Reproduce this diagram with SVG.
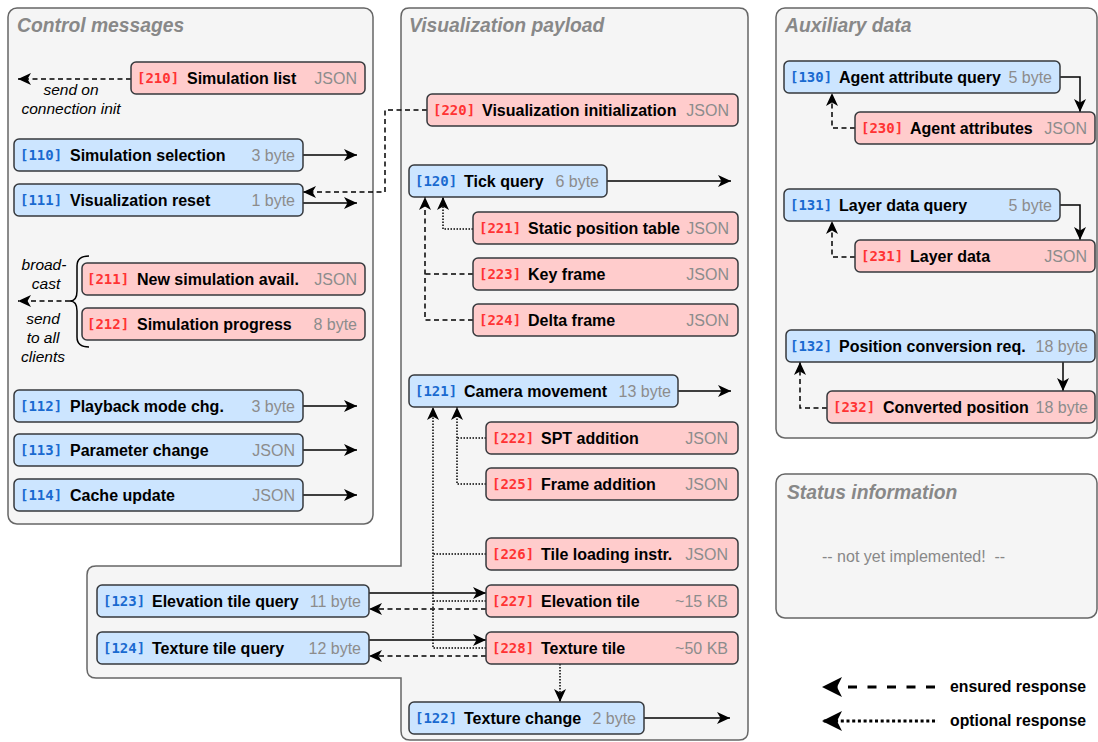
<svg xmlns="http://www.w3.org/2000/svg" width="1098" height="742" viewBox="0 0 1098 742">
  <style>
    .panel { fill: #f5f5f5; stroke: #666666; stroke-width: 1.5; }
    .title { font-family: "Liberation Sans", Arial, sans-serif; font-size: 19.3px; font-weight: bold; font-style: italic; fill: #888888; }
    .req { fill: #cce5ff; stroke: #36393d; stroke-width: 1.5; }
    .res { fill: #ffcccc; stroke: #36393d; stroke-width: 1.5; }
    .idb, .idr { font-family: "DejaVu Sans Mono", "Liberation Mono", monospace; font-size: 14px; font-weight: bold; }
    .idb { fill: #1a6ad0; }
    .idr { fill: #ff3333; }
    .lbl { font-family: "Liberation Sans", Arial, sans-serif; font-size: 16px; font-weight: bold; fill: #000000; }
    .sz { font-family: "Liberation Sans", Arial, sans-serif; font-size: 16px; fill: #8c8c8c; text-anchor: end; }
    .note { font-family: "Liberation Sans", Arial, sans-serif; font-size: 15.5px; font-style: italic; fill: #000000; text-anchor: middle; }
    .gray { font-family: "Liberation Sans", Arial, sans-serif; font-size: 16px; fill: #888888; white-space: pre; }
    .legend { font-family: "Liberation Sans", Arial, sans-serif; font-size: 15.8px; font-weight: bold; fill: #000000; }
    .ln { fill: none; stroke: #000000; stroke-width: 1.5; }
    .dash { stroke-dasharray: 5 3.5; }
    .dot { stroke-dasharray: 1.5 1.5; }
  </style>
  <defs>
    <marker id="arr" viewBox="0 0 13 12" refX="13" refY="6" markerWidth="13" markerHeight="12" markerUnits="userSpaceOnUse" orient="auto">
      <path d="M0,0 L13,6 L0,12 L3.5,6 Z" fill="#000000"/>
    </marker>
    <marker id="bigarr" viewBox="0 0 20 20" refX="20" refY="10" markerWidth="20" markerHeight="20" markerUnits="userSpaceOnUse" orient="auto">
      <path d="M0,0 L20,10 L0,20 L5,10 Z" fill="#000000"/>
    </marker>
  </defs>

  <!-- panels -->
  <g id="panel-control">
    <rect class="panel" x="8" y="8" width="365" height="516" rx="9"/>
    <text class="title" x="17" y="32">Control messages</text>
  </g>
  <g id="panel-visualization">
    <path class="panel" d="M409,8 H739 Q748,8 748,17 V731 Q748,740 739,740 H410 Q401,740 401,731 V678 H96 Q87,678 87,669 V575 Q87,566 96,566 H401 V17 Q401,8 409,8 Z"/>
    <text class="title" x="409" y="32">Visualization payload</text>
  </g>
  <g id="panel-auxiliary">
    <rect class="panel" x="776" y="8" width="321" height="430" rx="9"/>
    <text class="title" x="785" y="32">Auxiliary data</text>
  </g>
  <g id="panel-status">
    <rect class="panel" x="776" y="474" width="321" height="144" rx="9"/>
    <text class="title" x="787" y="499">Status information</text>
    <text class="gray" x="822" y="562" xml:space="preserve">-- not yet implemented!  --</text>
  </g>

  <!-- connectors -->
  <g id="connectors">
    <path class="ln dash" d="M131,79 H18" marker-end="url(#arr)"/>
    <path class="ln" d="M303,155 H357" marker-end="url(#arr)"/>
    <path class="ln" d="M303,203 H357" marker-end="url(#arr)"/>
    <path class="ln dash" d="M427,110 H385 V192 H303" marker-end="url(#arr)"/>
    <path class="ln" d="M89,256 Q77,256 77,266 V291 Q77,301 70,301 Q77,301 77,311 V337 Q77,347 89,347"/>
    <path class="ln dash" d="M70,301 H18" marker-end="url(#arr)"/>
    <path class="ln" d="M303,406 H357" marker-end="url(#arr)"/>
    <path class="ln" d="M303,450 H357" marker-end="url(#arr)"/>
    <path class="ln" d="M303,495 H357" marker-end="url(#arr)"/>

    <path class="ln" d="M607,181 H731" marker-end="url(#arr)"/>
    <path class="ln dot" d="M473,229 H443 V197" marker-end="url(#arr)"/>
    <path class="ln dash" d="M473,320 H425 V197" marker-end="url(#arr)"/>
    <path class="ln dash" d="M473,274 H425"/>

    <path class="ln" d="M678,391 H731" marker-end="url(#arr)"/>
    <path class="ln dot" d="M486,484 H457 V407" marker-end="url(#arr)"/>
    <path class="ln dot" d="M486,438 H457"/>
    <path class="ln dot" d="M486,648 H433 V407" marker-end="url(#arr)"/>
    <path class="ln dot" d="M486,554 H433"/>
    <path class="ln dot" d="M486,601 H433"/>

    <path class="ln" d="M369,593 H486" marker-end="url(#arr)"/>
    <path class="ln dash" d="M486,609 H369" marker-end="url(#arr)"/>
    <path class="ln" d="M369,640 H486" marker-end="url(#arr)"/>
    <path class="ln dash" d="M486,656 H369" marker-end="url(#arr)"/>
    <path class="ln dot" d="M560,664 V702" marker-end="url(#arr)"/>
    <path class="ln" d="M644,718 H730" marker-end="url(#arr)"/>

    <path class="ln" d="M1060,77 H1080 V112" marker-end="url(#arr)"/>
    <path class="ln dash" d="M855,128 H832 V93" marker-end="url(#arr)"/>
    <path class="ln" d="M1060,205 H1080 V240" marker-end="url(#arr)"/>
    <path class="ln dash" d="M855,257 H832 V221" marker-end="url(#arr)"/>
    <path class="ln" d="M1063,362 V391" marker-end="url(#arr)"/>
    <path class="ln dash" d="M827,408 H800 V362" marker-end="url(#arr)"/>
  </g>

  <!-- notes -->
  <g id="note-init">
    <text class="note" x="71" y="95">send on</text>
    <text class="note" x="71" y="114">connection init</text>
  </g>
  <g id="note-broadcast">
    <text class="note" x="44" y="270">broad-</text>
    <text class="note" x="46" y="289">cast</text>
    <text class="note" x="43" y="324">send</text>
    <text class="note" x="43" y="343">to all</text>
    <text class="note" x="43" y="362">clients</text>
  </g>

  <!-- control messages -->
  <g id="n210">
    <rect class="res" x="131" y="62" width="234" height="32" rx="5"/>
    <text class="idr" x="137" y="83">[210]</text>
    <text class="lbl" x="187" y="83.5">Simulation list</text>
    <text class="sz" x="357" y="83.5">JSON</text>
  </g>
  <g id="n110">
    <rect class="req" x="14" y="139" width="289" height="32" rx="5"/>
    <text class="idb" x="20" y="160">[110]</text>
    <text class="lbl" x="70" y="160.5">Simulation selection</text>
    <text class="sz" x="295" y="160.5">3 byte</text>
  </g>
  <g id="n111">
    <rect class="req" x="14" y="184" width="289" height="32" rx="5"/>
    <text class="idb" x="20" y="205">[111]</text>
    <text class="lbl" x="70" y="205.5">Visualization reset</text>
    <text class="sz" x="295" y="205.5">1 byte</text>
  </g>
  <g id="n211">
    <rect class="res" x="82" y="263" width="283" height="32" rx="5"/>
    <text class="idr" x="87" y="284">[211]</text>
    <text class="lbl" x="137" y="284.5">New simulation avail.</text>
    <text class="sz" x="357" y="284.5">JSON</text>
  </g>
  <g id="n212">
    <rect class="res" x="82" y="308" width="283" height="32" rx="5"/>
    <text class="idr" x="87" y="329">[212]</text>
    <text class="lbl" x="137" y="329.5">Simulation progress</text>
    <text class="sz" x="357" y="329.5">8 byte</text>
  </g>
  <g id="n112">
    <rect class="req" x="14" y="390" width="289" height="32" rx="5"/>
    <text class="idb" x="20" y="411">[112]</text>
    <text class="lbl" x="70" y="411.5">Playback mode chg.</text>
    <text class="sz" x="295" y="411.5">3 byte</text>
  </g>
  <g id="n113">
    <rect class="req" x="14" y="434" width="289" height="32" rx="5"/>
    <text class="idb" x="20" y="455">[113]</text>
    <text class="lbl" x="70" y="455.5">Parameter change</text>
    <text class="sz" x="295" y="455.5">JSON</text>
  </g>
  <g id="n114">
    <rect class="req" x="14" y="479" width="289" height="32" rx="5"/>
    <text class="idb" x="20" y="500">[114]</text>
    <text class="lbl" x="70" y="500.5">Cache update</text>
    <text class="sz" x="295" y="500.5">JSON</text>
  </g>

  <!-- visualization payload -->
  <g id="n220">
    <rect class="res" x="427" y="94" width="311" height="32" rx="5"/>
    <text class="idr" x="433" y="115">[220]</text>
    <text class="lbl" x="482" y="115.5">Visualization initialization</text>
    <text class="sz" x="729" y="115.5">JSON</text>
  </g>
  <g id="n120">
    <rect class="req" x="409" y="165" width="198" height="32" rx="5"/>
    <text class="idb" x="415" y="186">[120]</text>
    <text class="lbl" x="464" y="186.5">Tick query</text>
    <text class="sz" x="599" y="186.5">6 byte</text>
  </g>
  <g id="n221">
    <rect class="res" x="473" y="212" width="265" height="32" rx="5"/>
    <text class="idr" x="479" y="233">[221]</text>
    <text class="lbl" x="528" y="233.5">Static position table</text>
    <text class="sz" x="729" y="233.5">JSON</text>
  </g>
  <g id="n223">
    <rect class="res" x="473" y="258" width="265" height="32" rx="5"/>
    <text class="idr" x="479" y="279">[223]</text>
    <text class="lbl" x="528" y="279.5">Key frame</text>
    <text class="sz" x="729" y="279.5">JSON</text>
  </g>
  <g id="n224">
    <rect class="res" x="473" y="304" width="265" height="32" rx="5"/>
    <text class="idr" x="479" y="325">[224]</text>
    <text class="lbl" x="528" y="325.5">Delta frame</text>
    <text class="sz" x="729" y="325.5">JSON</text>
  </g>
  <g id="n121">
    <rect class="req" x="409" y="375" width="269" height="32" rx="5"/>
    <text class="idb" x="415" y="396">[121]</text>
    <text class="lbl" x="464" y="396.5">Camera movement</text>
    <text class="sz" x="671" y="396.5">13 byte</text>
  </g>
  <g id="n222">
    <rect class="res" x="486" y="422" width="252" height="32" rx="5"/>
    <text class="idr" x="492" y="443">[222]</text>
    <text class="lbl" x="541" y="443.5">SPT addition</text>
    <text class="sz" x="728" y="443.5">JSON</text>
  </g>
  <g id="n225">
    <rect class="res" x="486" y="468" width="252" height="32" rx="5"/>
    <text class="idr" x="492" y="489">[225]</text>
    <text class="lbl" x="541" y="489.5">Frame addition</text>
    <text class="sz" x="728" y="489.5">JSON</text>
  </g>
  <g id="n226">
    <rect class="res" x="486" y="538" width="252" height="32" rx="5"/>
    <text class="idr" x="492" y="559">[226]</text>
    <text class="lbl" x="541" y="559.5">Tile loading instr.</text>
    <text class="sz" x="728" y="559.5">JSON</text>
  </g>
  <g id="n227">
    <rect class="res" x="486" y="585" width="252" height="32" rx="5"/>
    <text class="idr" x="492" y="606">[227]</text>
    <text class="lbl" x="541" y="606.5">Elevation tile</text>
    <text class="sz" x="728" y="606.5">~15 KB</text>
  </g>
  <g id="n228">
    <rect class="res" x="486" y="632" width="252" height="32" rx="5"/>
    <text class="idr" x="492" y="653">[228]</text>
    <text class="lbl" x="541" y="653.5">Texture tile</text>
    <text class="sz" x="728" y="653.5">~50 KB</text>
  </g>
  <g id="n123">
    <rect class="req" x="97" y="585" width="272" height="32" rx="5"/>
    <text class="idb" x="103" y="606">[123]</text>
    <text class="lbl" x="152" y="606.5">Elevation tile query</text>
    <text class="sz" x="361" y="606.5">11 byte</text>
  </g>
  <g id="n124">
    <rect class="req" x="97" y="632" width="272" height="32" rx="5"/>
    <text class="idb" x="103" y="653">[124]</text>
    <text class="lbl" x="152" y="653.5">Texture tile query</text>
    <text class="sz" x="361" y="653.5">12 byte</text>
  </g>
  <g id="n122">
    <rect class="req" x="409" y="702" width="235" height="32" rx="5"/>
    <text class="idb" x="415" y="723">[122]</text>
    <text class="lbl" x="464" y="723.5">Texture change</text>
    <text class="sz" x="636" y="723.5">2 byte</text>
  </g>

  <!-- auxiliary data -->
  <g id="n130">
    <rect class="req" x="784" y="61" width="276" height="32" rx="5"/>
    <text class="idb" x="790" y="82">[130]</text>
    <text class="lbl" x="839" y="82.5">Agent attribute query</text>
    <text class="sz" x="1052" y="82.5">5 byte</text>
  </g>
  <g id="n230">
    <rect class="res" x="855" y="112" width="240" height="32" rx="5"/>
    <text class="idr" x="861" y="133">[230]</text>
    <text class="lbl" x="910" y="133.5">Agent attributes</text>
    <text class="sz" x="1087" y="133.5">JSON</text>
  </g>
  <g id="n131">
    <rect class="req" x="784" y="189" width="276" height="32" rx="5"/>
    <text class="idb" x="790" y="210">[131]</text>
    <text class="lbl" x="839" y="210.5">Layer data query</text>
    <text class="sz" x="1052" y="210.5">5 byte</text>
  </g>
  <g id="n231">
    <rect class="res" x="855" y="240" width="240" height="32" rx="5"/>
    <text class="idr" x="861" y="261">[231]</text>
    <text class="lbl" x="910" y="261.5">Layer data</text>
    <text class="sz" x="1087" y="261.5">JSON</text>
  </g>
  <g id="n132">
    <rect class="req" x="786" y="330" width="309" height="32" rx="5"/>
    <text class="idb" x="790" y="351">[132]</text>
    <text class="lbl" x="839" y="351.5">Position conversion req.</text>
    <text class="sz" x="1088" y="351.5">18 byte</text>
  </g>
  <g id="n232">
    <rect class="res" x="827" y="391" width="268" height="32" rx="5"/>
    <text class="idr" x="833" y="412">[232]</text>
    <text class="lbl" x="883" y="412.5">Converted position</text>
    <text class="sz" x="1088" y="412.5">18 byte</text>
  </g>

  <!-- legend -->
  <g id="legend">
    <path d="M935,687 H822" fill="none" stroke="#000000" stroke-width="3" stroke-dasharray="9 10.5" marker-end="url(#bigarr)"/>
    <text class="legend" x="950" y="692">ensured response</text>
    <path d="M935,721 H822" fill="none" stroke="#000000" stroke-width="3" stroke-dasharray="3 2.7" marker-end="url(#bigarr)"/>
    <text class="legend" x="950" y="726">optional response</text>
  </g>
</svg>
